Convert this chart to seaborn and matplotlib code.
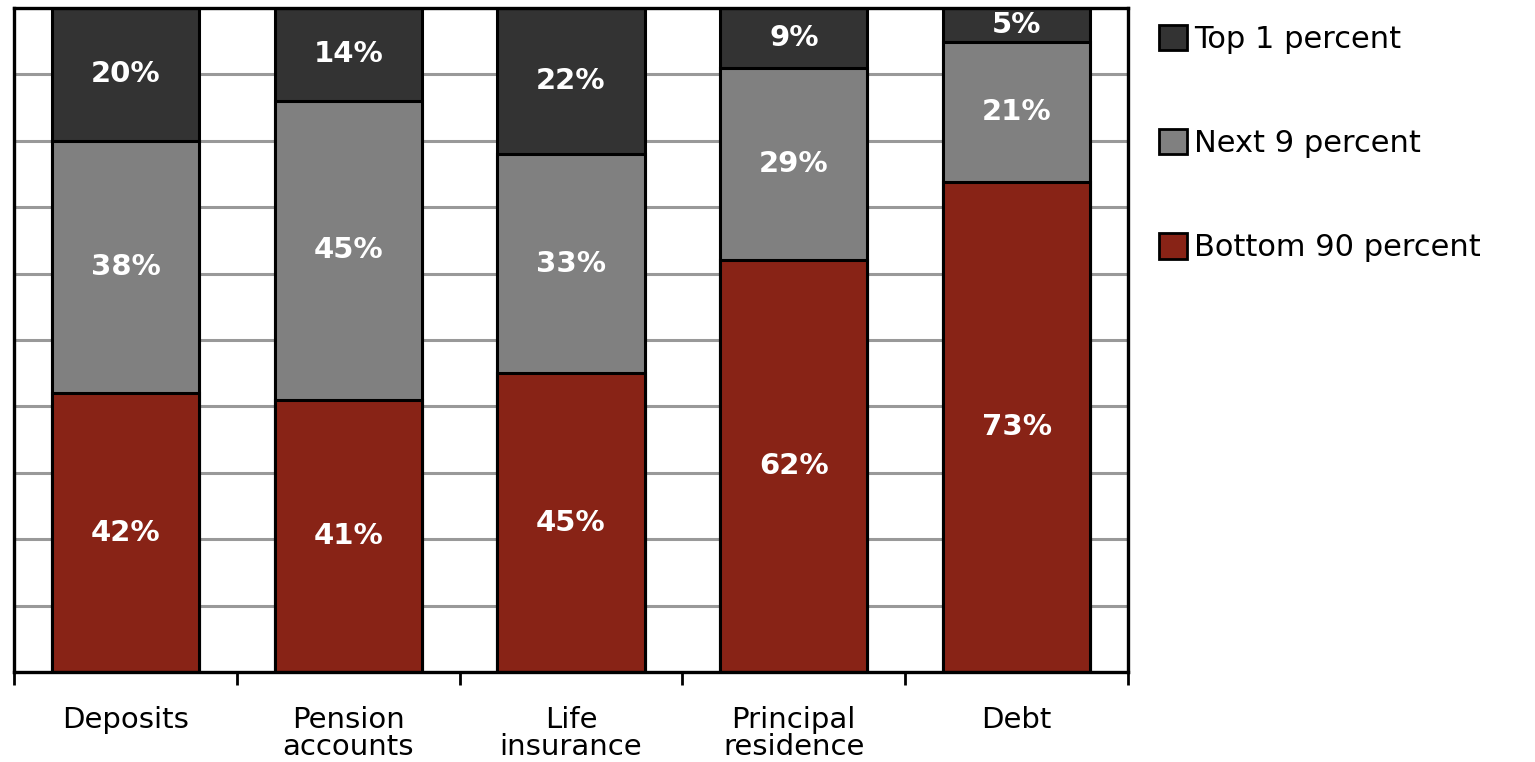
import pandas as pd
import matplotlib.pyplot as plt
import seaborn as sns
from matplotlib.patches import Patch

categories = ['Deposits', 'Pension\naccounts', 'Life\ninsurance', 'Principal\nresidence', 'Debt']
bottom_90 = [42, 41, 45, 62, 73]
next_9 = [38, 45, 33, 29, 21]
top_1 = [20, 14, 22, 9, 5]

series = ['Top 1 percent', 'Next 9 percent', 'Bottom 90 percent']
colors = {'Top 1 percent': '#333333', 'Next 9 percent': '#808080', 'Bottom 90 percent': '#882316'}

df = pd.DataFrame({'cat': categories,
                   'Bottom 90 percent': bottom_90,
                   'Next 9 percent': next_9,
                   'Top 1 percent': top_1})
# shares normalised to 100 so every bar fills the frame
total = df[series].sum(axis=1)
df['h_bottom'] = df['Bottom 90 percent'] / total * 100
df['h_next'] = (df['Bottom 90 percent'] + df['Next 9 percent']) / total * 100
df['h_top'] = 100.0

sns.set_style('white')
plt.rcParams['font.family'] = ['DejaVu Sans']
plt.rcParams['text.color'] = 'black'
plt.rcParams['xtick.color'] = 'black'
plt.rcParams['xtick.labelcolor'] = 'black'

fig = plt.figure(figsize=(15.35, 7.62), dpi=100)
ax = fig.add_axes([14 / 1535, 90 / 762, 1114 / 1535, 664 / 762])

# stacked: draw the tallest first, then overlay the lower parts
for col, name in [('h_top', 'Top 1 percent'), ('h_next', 'Next 9 percent'), ('h_bottom', 'Bottom 90 percent')]:
    sns.barplot(data=df, x='cat', y=col, order=categories, color=colors[name],
                saturation=1, width=0.66, edgecolor='black', linewidth=2.2,
                errorbar=None, ax=ax)

# percentage labels centred in each segment
for i, row in df.iterrows():
    segs = [(0, row['h_bottom'], row['Bottom 90 percent']),
            (row['h_bottom'], row['h_next'], row['Next 9 percent']),
            (row['h_next'], row['h_top'], row['Top 1 percent'])]
    for lo, hi, v in segs:
        ax.text(i, (lo + hi) / 2, f'{v}%', ha='center', va='center',
                color='white', fontsize=21, fontweight='bold')

ax.set_xlim(-0.5, len(categories) - 0.5)
ax.set_ylim(0, 100)
ax.set_yticks(range(0, 101, 10))
ax.yaxis.grid(True, color='#999999', linewidth=2.2)
ax.set_axisbelow(True)
ax.set_xlabel('')
ax.set_ylabel('')
ax.tick_params(axis='y', left=False, labelleft=False)
ax.set_xticks(range(len(categories)))
ax.set_xticklabels(categories, fontsize=21, linespacing=0.95, color='black')
ax.set_xticks([i - 0.5 for i in range(len(categories) + 1)], minor=True)
ax.tick_params(axis='x', which='major', bottom=False, pad=21)
ax.tick_params(axis='x', which='minor', bottom=True, length=9, width=2,
               color='black', direction='out')
for s in ax.spines.values():
    s.set_visible(True)
    s.set_color('black')
    s.set_linewidth(2.4)

handles = [Patch(facecolor=colors[n], edgecolor='black', linewidth=2, label=n) for n in series]
ax.legend(handles=handles, loc='upper left', bbox_to_anchor=(1159 / 1535, 1 - 25 / 762),
          bbox_transform=fig.transFigure, frameon=False, fontsize=22,
          handlelength=0.9, handleheight=0.9, handletextpad=0.26,
          labelspacing=2.45, borderaxespad=0, borderpad=0)

fig.savefig('out.png', dpi=100)
